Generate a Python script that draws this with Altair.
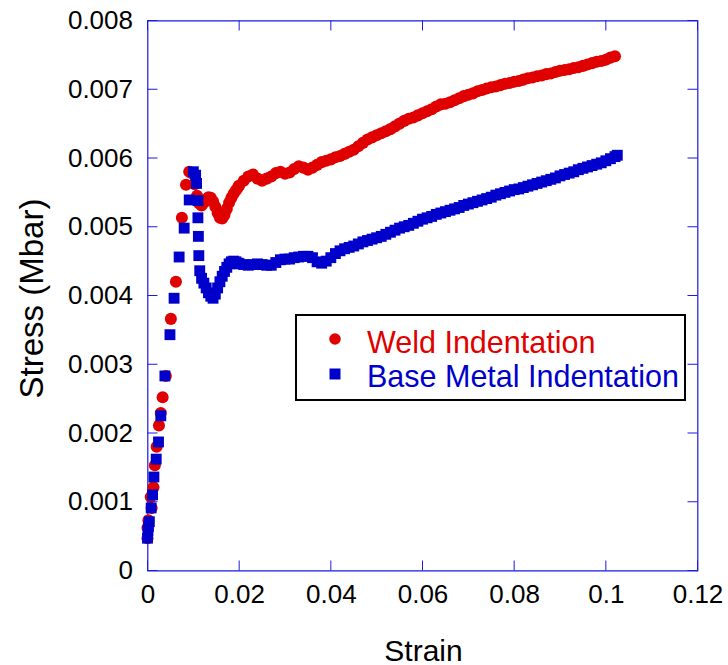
import altair as alt
import pandas as pd

# ---------------- data ----------------
weld_strain = [
    0.0000, 0.0000, 0.0002, 0.0007, 0.0009, 0.0013, 0.0016, 0.0020, 0.0025, 0.0029,
    0.0033, 0.0040, 0.0051, 0.0062, 0.0075, 0.0084, 0.0091, 0.0097,
    0.0103, 0.0108, 0.0113, 0.0118, 0.0123, 0.0128, 0.0133, 0.0138, 0.0143, 0.0148,
    0.0153, 0.0158, 0.0163, 0.0168, 0.0173, 0.0178, 0.0183, 0.0188, 0.0193, 0.0198,
    0.020, 0.021, 0.022, 0.023, 0.024, 0.025, 0.026, 0.027, 0.028, 0.029,
    0.030, 0.031, 0.032, 0.033, 0.034, 0.035, 0.036, 0.037, 0.038, 0.039,
    0.040, 0.041, 0.042, 0.043, 0.044, 0.045, 0.046, 0.047, 0.048, 0.049,
    0.050, 0.051, 0.052, 0.053, 0.054, 0.055, 0.056, 0.057, 0.058, 0.059,
    0.060, 0.061, 0.062, 0.063, 0.064, 0.065, 0.066, 0.067, 0.068, 0.069,
    0.070, 0.071, 0.072, 0.073, 0.074, 0.075, 0.076, 0.077, 0.078, 0.079,
    0.080, 0.081, 0.082, 0.083, 0.084, 0.085, 0.086, 0.087, 0.088, 0.089,
    0.090, 0.091, 0.092, 0.093, 0.094, 0.095, 0.096, 0.097, 0.098, 0.099,
    0.100, 0.101, 0.102,
]
weld_stress = [
    0.00047, 0.00062, 0.00073, 0.00107, 0.00091, 0.00121, 0.00153, 0.00180, 0.00211, 0.00229,
    0.00252, 0.00283, 0.00366, 0.00420, 0.00513, 0.00561, 0.00580, 0.00578,
    0.00562, 0.00545, 0.00534, 0.00531, 0.00535, 0.00540, 0.00543, 0.00542, 0.00537, 0.00529,
    0.00520, 0.00513, 0.00512, 0.00517, 0.00526, 0.00535, 0.00542, 0.00548, 0.00553, 0.00558,
    0.00560, 0.00567, 0.00573, 0.00576, 0.00570, 0.00567, 0.00570, 0.00573, 0.00578, 0.00580,
    0.00577, 0.00579, 0.00584, 0.00588, 0.00586, 0.00583, 0.00586, 0.00590, 0.00594, 0.00596,
    0.00598, 0.00601, 0.00603, 0.00606, 0.00609, 0.00612, 0.00617, 0.00622, 0.00627, 0.00630,
    0.00633, 0.00636, 0.00639, 0.00642, 0.00646, 0.00650, 0.00654, 0.00657, 0.00659, 0.00662,
    0.00665, 0.00668, 0.00671, 0.00675, 0.00678, 0.00679, 0.00681, 0.00684, 0.00687, 0.00690,
    0.00692, 0.00694, 0.00697, 0.00699, 0.00701, 0.00703, 0.00704, 0.00706, 0.00708, 0.00709,
    0.00711, 0.00712, 0.00714, 0.00716, 0.00717, 0.00719, 0.00720, 0.00722, 0.00723, 0.00725,
    0.00727, 0.00728, 0.00729, 0.00731, 0.00732, 0.00734, 0.00736, 0.00738, 0.00740, 0.00741,
    0.00743, 0.00746, 0.00748,
]

base_strain = [
    0.0000, 0.0001, 0.0002, 0.0004, 0.0008, 0.0011, 0.0014, 0.0019, 0.0024, 0.0029,
    0.0038, 0.0049, 0.0058, 0.0069, 0.0080, 0.0091, 0.0100,
    0.0105, 0.0107, 0.0110, 0.0110, 0.0111, 0.0112, 0.0114, 0.0118, 0.0123, 0.0128,
    0.0133, 0.0138, 0.0143, 0.0148, 0.0153, 0.0158, 0.0163, 0.0168, 0.0173, 0.0178,
    0.0183, 0.0188, 0.0193, 0.0198,
    0.020, 0.021, 0.022, 0.023, 0.024, 0.025, 0.026, 0.027, 0.028, 0.029,
    0.030, 0.031, 0.032, 0.033, 0.034, 0.035, 0.036, 0.037, 0.038, 0.039,
    0.040, 0.041, 0.042, 0.043, 0.044, 0.045, 0.046, 0.047, 0.048, 0.049,
    0.050, 0.051, 0.052, 0.053, 0.054, 0.055, 0.056, 0.057, 0.058, 0.059,
    0.060, 0.061, 0.062, 0.063, 0.064, 0.065, 0.066, 0.067, 0.068, 0.069,
    0.070, 0.071, 0.072, 0.073, 0.074, 0.075, 0.076, 0.077, 0.078, 0.079,
    0.080, 0.081, 0.082, 0.083, 0.084, 0.085, 0.086, 0.087, 0.088, 0.089,
    0.090, 0.091, 0.092, 0.093, 0.094, 0.095, 0.096, 0.097, 0.098, 0.099,
    0.100, 0.101, 0.102, 0.1025,
]
base_stress = [
    0.00047, 0.00058, 0.00064, 0.00071, 0.00091, 0.00110, 0.00136, 0.00162, 0.00187, 0.00225,
    0.00283, 0.00343, 0.00396, 0.00456, 0.00498, 0.00539, 0.00580,
    0.00575, 0.00563, 0.00538, 0.00513, 0.00486, 0.00458, 0.00436, 0.00425, 0.00418, 0.00411,
    0.00404, 0.00399, 0.00396, 0.00402, 0.00411, 0.00420, 0.00428, 0.00435, 0.00441, 0.00446,
    0.00449, 0.00450, 0.00449, 0.00447,
    0.00446, 0.00445, 0.00444, 0.00445, 0.00446, 0.00445, 0.00444, 0.00444, 0.00448, 0.00452,
    0.00453, 0.00453, 0.00455, 0.00456, 0.00457, 0.00457, 0.00455, 0.00449, 0.00447, 0.00450,
    0.00455, 0.00461, 0.00465, 0.00468, 0.00470, 0.00472, 0.00475, 0.00478, 0.00480, 0.00482,
    0.00484, 0.00486, 0.00489, 0.00492, 0.00495, 0.00498, 0.00500, 0.00502, 0.00505, 0.00508,
    0.00511, 0.00513, 0.00515, 0.00518, 0.00520, 0.00522, 0.00524, 0.00526, 0.00528, 0.00531,
    0.00533, 0.00535, 0.00537, 0.00539, 0.00541, 0.00543, 0.00546, 0.00548, 0.00550, 0.00552,
    0.00554, 0.00555, 0.00557, 0.00559, 0.00561, 0.00563, 0.00565, 0.00567, 0.00569, 0.00571,
    0.00574, 0.00576, 0.00578, 0.00580, 0.00583, 0.00585, 0.00587, 0.00589, 0.00591, 0.00593,
    0.00596, 0.00599, 0.00602, 0.00604,
]

x_ticks = [0, 0.02, 0.04, 0.06, 0.08, 0.1, 0.12]
y_ticks = [0, 0.001, 0.002, 0.003, 0.004, 0.005, 0.006, 0.007, 0.008]
legend_labels = ["Weld Indentation", "Base Metal Indentation"]

# ---------------- styling ----------------
RED = "#e00000"
BLUE = "#0000cc"
FRAME = "#1a1ae0"
FONT = "Liberation Sans"
W, H = 550, 550

weld_df = pd.DataFrame({"strain": weld_strain, "stress": weld_stress})
base_df = pd.DataFrame({"strain": base_strain, "stress": base_stress})
xt_df = pd.DataFrame({"strain": x_ticks})
yt_df = pd.DataFrame({"stress": y_ticks})

x_axis = alt.Axis(
    values=x_ticks, labelExpr="'' + datum.value", domain=False, ticks=False, grid=False,
    labelFont=FONT, labelFontSize=26, labelColor="black", labelPadding=11,
    labelFlush=False, labelOverlap=False, labelBound=False,
    title="Strain", titleFont=FONT, titleFontSize=30, titleFontWeight="normal",
    titleColor="black", titleX=275.5, titleY=89.5, titleBaseline="alphabetic",
    titleAlign="center",
)
y_axis = alt.Axis(
    values=y_ticks, labelExpr="'' + datum.value", domain=False, ticks=False, grid=False,
    labelFont=FONT, labelFontSize=26, labelColor="black", labelPadding=15,
    labelFlush=False, labelOverlap=False, labelBound=False,
    title="Stress (Mbar)", titleFont=FONT, titleFontSize=33, titleFontWeight="normal",
    titleColor="black", titleX=-105.5, titleY=277.5, titleBaseline="alphabetic",
    titleAlign="center", titleAngle=270,
)
xs = alt.Scale(domain=[0, 0.12], nice=False, zero=False)
ys = alt.Scale(domain=[0, 0.008], nice=False, zero=False)
xenc = alt.X("strain:Q", scale=xs, axis=x_axis)
yenc = alt.Y("stress:Q", scale=ys, axis=y_axis)

weld = alt.Chart(weld_df).mark_point(
    shape="circle", filled=True, size=145, color=RED, opacity=1
).encode(x=xenc, y=yenc)

base = alt.Chart(base_df).mark_point(
    shape="square", filled=True, size=118, color=BLUE, opacity=1
).encode(x=xenc, y=yenc)

tick_bottom = alt.Chart(xt_df).mark_rule(color=FRAME, strokeWidth=1).encode(
    x=xenc, y=alt.value(H - 10), y2=alt.value(H))
tick_top = alt.Chart(xt_df).mark_rule(color=FRAME, strokeWidth=1).encode(
    x=xenc, y=alt.value(0), y2=alt.value(10))
tick_left = alt.Chart(yt_df).mark_rule(color=FRAME, strokeWidth=1).encode(
    y=yenc, x=alt.value(0), x2=alt.value(10))
tick_right = alt.Chart(yt_df).mark_rule(color=FRAME, strokeWidth=1).encode(
    y=yenc, x=alt.value(W - 10), x2=alt.value(W))

one = pd.DataFrame({"label": [legend_labels[0]]})
two = pd.DataFrame({"label": [legend_labels[1]]})

legend_box = alt.Chart(one).mark_rect(
    fill="white", stroke="black", strokeWidth=2
).encode(x=alt.value(148.5), x2=alt.value(537.5), y=alt.value(294.5), y2=alt.value(379.5))

leg_c = alt.Chart(one).mark_point(shape="circle", filled=True, size=133, color=RED, opacity=1).encode(
    x=alt.value(187.5), y=alt.value(318.5))
leg_s = alt.Chart(two).mark_point(shape="square", filled=True, size=121, color=BLUE, opacity=1).encode(
    x=alt.value(187.5), y=alt.value(353.5))
leg_t1 = alt.Chart(one).mark_text(
    align="left", baseline="alphabetic", font=FONT, fontSize=30.5, color=RED
).encode(x=alt.value(219.5), y=alt.value(332.5), text="label:N")
leg_t2 = alt.Chart(two).mark_text(
    align="left", baseline="alphabetic", font=FONT, fontSize=30.5, color=BLUE
).encode(x=alt.value(219.5), y=alt.value(366.5), text="label:N")

chart = alt.layer(
    weld, base, tick_bottom, tick_top, tick_left, tick_right,
    legend_box, leg_c, leg_s, leg_t1, leg_t2,
).properties(
    width=W, height=H,
    autosize=alt.AutoSizeParams(type="none"),
    padding={"left": 147.5, "top": 20.5, "right": 30.5, "bottom": 94.5},
    background="white",
).configure_view(stroke=FRAME, strokeWidth=1.2)

chart.save("out.html", embed_options={"renderer": "svg", "actions": False})
